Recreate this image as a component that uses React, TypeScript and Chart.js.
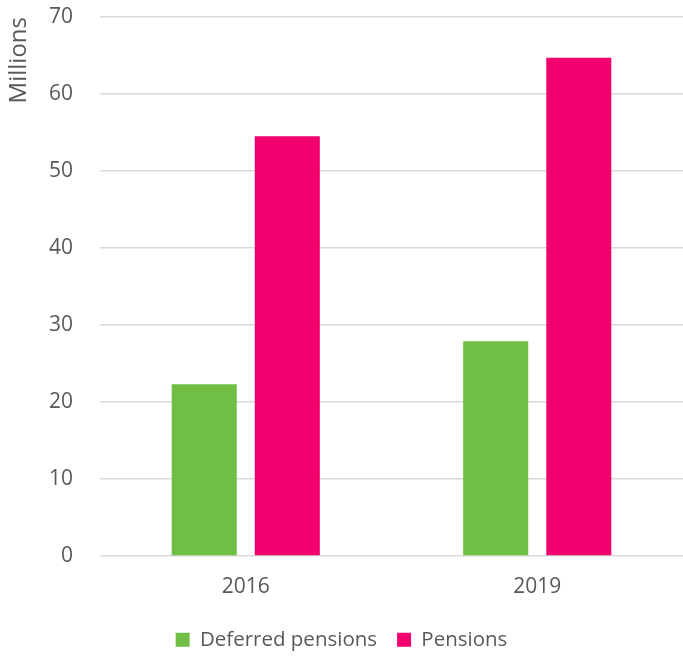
import React, { useEffect, useRef } from "react";
import { Chart, registerables } from "chart.js";

Chart.register(...registerables);

const categories = ["2016", "2019"];
const deferredPensions = [22.3, 27.9];
const pensions = [54.5, 64.7];
const seriesNames = ["Deferred pensions", "Pensions"];
const yTitle = "Millions";

const FONT = "'Open Sans', 'Noto Sans', sans-serif";
const TEXT = "#595959";

export default function App() {
  const ref = useRef<HTMLCanvasElement | null>(null);
  useEffect(() => {
    document.body.style.margin = "0";
    const ctx = ref.current!;
    const chart = new Chart(ctx, {
      type: "bar",
      data: {
        labels: categories,
        datasets: [
          {
            label: seriesNames[0],
            data: deferredPensions,
            backgroundColor: "#70BF44",
            categoryPercentage: 0.57,
            barPercentage: 0.783,
          },
          {
            label: seriesNames[1],
            data: pensions,
            backgroundColor: "#F2006E",
            categoryPercentage: 0.57,
            barPercentage: 0.783,
          },
        ],
      },
      options: {
        responsive: false,
        animation: false,
        maintainAspectRatio: false,
        layout: { padding: { top: 17, right: 0, left: 0, bottom: -3 } },
        plugins: {
          tooltip: { enabled: false },
          legend: {
            position: "bottom",
            labels: {
              boxWidth: 14,
              boxHeight: 14,
              color: TEXT,
              font: { family: FONT, size: 20.5 },
              padding: 20,
            },
          },
        },
        scales: {
          x: {
            grid: { display: false, drawTicks: false },
            border: { display: false },
            ticks: { color: TEXT, font: { family: FONT, size: 21 }, padding: 18 },
            afterFit: (axis: any) => {
              axis.height = 53.5;
              axis.paddingLeft = 0;
              axis.paddingRight = 0;
            },
          },
          y: {
            min: 0,
            max: 70,
            ticks: {
              stepSize: 10,
              color: TEXT,
              font: { family: FONT, size: 21 },
              padding: 27,
            },
            grid: { color: "#D9D9D9", lineWidth: 1.5, drawTicks: false },
            border: { display: false },
            title: {
              display: true,
              text: yTitle,
              align: "end",
              color: TEXT,
              font: { family: FONT, size: 24 },
              padding: { top: 5, bottom: 0 },
            },
            afterFit: (axis: any) => {
              axis.width = 100;
              axis.paddingTop = 0;
              axis.paddingBottom = 0;
            },
          },
        },
      },
    });
    return () => chart.destroy();
  }, []);
  return (
    <div style={{ width: 683, height: 657 }}>
      <canvas ref={ref} width={683} height={657} style={{ display: "block" }} />
    </div>
  );
}
